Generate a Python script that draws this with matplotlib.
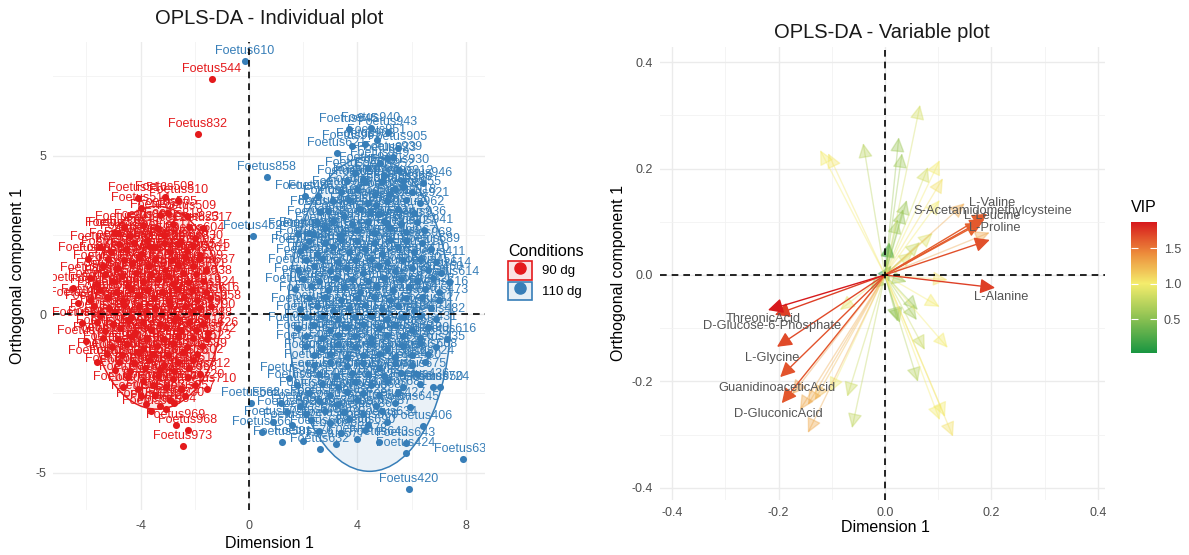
import matplotlib
matplotlib.use("Agg")
import matplotlib.pyplot as plt
from matplotlib.patches import Ellipse, Patch
from matplotlib.lines import Line2D
from matplotlib.colors import LinearSegmentedColormap, Normalize, to_rgba
from matplotlib.cm import ScalarMappable
from matplotlib.legend_handler import HandlerTuple

plt.rcParams['font.family'] = ['Liberation Sans', 'DejaVu Sans']
plt.rcParams['axes.unicode_minus'] = False

# ---------------- individual plot data ----------------
red_x = [-1.37, -1.88, -2.70, -2.25, -2.44, -1.55, -6.17, -6.50, -5.60, -4.10,
         -3.10, -2.60, -3.28, -3.00, -2.30, -1.70, -4.95, -4.85, -4.00, -5.50,
         -5.87, -6.30, -5.95, -6.00,
         -4.40, -3.75, -3.15, -2.55, -2.00,
         -5.10, -4.55, -4.00, -3.45, -2.90, -2.30, -1.80,
         -5.40, -4.85, -4.30, -3.70, -3.10, -2.60, -2.05, -1.60,
         -5.60, -5.00, -4.45, -3.90, -3.35, -2.80, -2.25, -1.70,
         -5.85, -5.25, -4.65, -4.10, -3.50, -2.95, -2.40, -1.90, -1.45,
         -5.50, -4.95, -4.35, -3.80, -3.20, -2.70, -2.10, -1.60,
         -5.30, -4.75, -4.20, -3.60, -3.05, -2.50, -1.95, -1.50,
         -5.05, -4.50, -3.90, -3.40, -2.80, -2.30, -1.75,
         -4.80, -4.25, -3.70, -3.15, -2.60, -2.05,
         -4.45, -3.90, -3.35, -2.80, -2.25, -1.80,
         -4.00, -3.45, -2.90, -2.35,
         -3.60, -3.05,
         -4.60, -3.90, -3.40, -2.80, -2.20,
         -4.80, -4.25, -3.70, -3.15, -2.60, -2.05,
         -5.20, -4.60, -4.05, -3.45, -2.85, -2.35, -1.85,
         -5.30, -4.70, -4.15, -3.60, -3.00, -2.45, -1.95,
         -5.50, -4.90, -4.35, -3.75, -3.20, -2.65, -2.10, -1.60,
         -5.70, -5.15, -4.60, -4.05, -3.45, -2.90, -2.35, -1.85, -1.40,
         -5.60, -5.00, -4.45, -3.90, -3.30, -2.75, -2.20, -1.70,
         -5.40, -4.85, -4.30, -3.75, -3.15, -2.60, -2.05, -1.55,
         -5.25, -4.70, -4.10, -3.55, -3.00, -2.45, -1.90,
         -4.95, -4.40, -3.85, -3.30, -2.75, -2.20,
         -4.65, -4.10, -3.55, -3.05, -2.50, -2.00,
         -3.80, -3.30, -2.75]
red_y = [7.41, 5.68, -3.50, -3.66, -4.16, -2.37, -0.28, 0.82, -1.50, 3.66,
         3.69, 3.60, 3.12, 3.20, 3.10, 2.70, 2.56, 2.56, 3.34, 2.10,
         1.13, 0.35, 1.75, -0.85,
         2.45, 2.35, 2.50, 2.30, 2.40,
         1.95, 2.05, 1.90, 2.10, 1.95, 2.00, 1.85,
         1.50, 1.45, 1.60, 1.50, 1.40, 1.55, 1.50, 1.40,
         0.95, 1.05, 0.90, 1.00, 1.10, 0.95, 1.00, 1.05,
         0.45, 0.55, 0.40, 0.60, 0.50, 0.40, 0.55, 0.45, 0.50,
         -0.05, 0.05, -0.10, 0.05, 0.00, -0.10, 0.05, -0.05,
         -0.55, -0.45, -0.60, -0.50, -0.40, -0.55, -0.50, -0.60,
         -1.05, -0.95, -1.10, -1.00, -0.90, -1.05, -1.00,
         -1.50, -1.55, -1.45, -1.60, -1.50, -1.45,
         -2.00, -2.10, -1.95, -2.05, -2.00, -1.90,
         -2.60, -2.55, -2.70, -2.60,
         -3.05, -3.00,
         2.75, 2.80, 2.70, 2.85, 2.75,
         2.20, 2.25, 2.15, 2.25, 2.20, 2.15,
         1.75, 1.70, 1.80, 1.75, 1.70, 1.80, 1.75,
         1.25, 1.20, 1.30, 1.25, 1.20, 1.30, 1.25,
         0.75, 0.70, 0.80, 0.75, 0.70, 0.80, 0.75, 0.70,
         0.25, 0.20, 0.30, 0.25, 0.20, 0.30, 0.25, 0.20, 0.25,
         -0.25, -0.30, -0.20, -0.25, -0.30, -0.20, -0.25, -0.30,
         -0.75, -0.80, -0.70, -0.75, -0.80, -0.70, -0.75, -0.80,
         -1.25, -1.30, -1.20, -1.25, -1.30, -1.20, -1.25,
         -1.75, -1.80, -1.70, -1.75, -1.80, -1.70,
         -2.30, -2.35, -2.25, -2.30, -2.35, -2.25,
         -2.85, -2.90, -2.80]
red_id = [544, 832, 969, 968, 973, 710, 583, 892, 612, 516,
          508, 510, 527, 505, 509, 517, 522, 591, 514, 539,
          898, 877, 863, 781,
          503, 598, 511, 524, 604,
          587, 531, 519, 573, 548, 607, 545,
          536, 593, 552, 580, 566, 541, 599, 637,
          886, 575, 562, 528, 551, 577, 609, 538,
          829, 594, 569, 547, 532, 585, 620, 616, 616,
          880, 571, 556, 534, 578, 563, 549, 790,
          851, 588, 572, 554, 543, 567, 612, 626,
          844, 579, 561, 535, 586, 570, 523,
          873, 592, 558, 546, 576, 602,
          815, 584, 565, 529, 568, 712,
          959, 863, 971, 957,
          955, 964,
          801, 806, 812, 818, 823,
          804, 809, 815, 821, 826, 830,
          835, 839, 842, 847, 853, 857, 861,
          866, 870, 874, 879, 883, 887, 891,
          895, 899, 902, 906, 911, 915, 919, 924,
          928, 931, 935, 938, 942, 947, 950, 954, 958,
          961, 965, 970, 974, 977, 981, 985, 988,
          501, 506, 512, 518, 525, 530, 537, 542,
          550, 555, 560, 564, 574, 581, 589,
          595, 597, 601, 603, 606, 611,
          701, 705, 708, 714, 717, 720,
          723, 726, 730]

blue_x = [-0.15, 0.66, 3.69, 4.50, 5.13, 4.72, 3.25, 6.42, 6.46, 0.15,
          2.07, 2.55, 2.62, 7.90, 5.90, 6.42, 5.79, 0.07, 0.48, 1.22,
          2.62, 1.48, 1.77, 6.80, 7.05, 5.94, 5.79, 7.40, 7.30,
          4.28, 5.68, 5.20, 4.69, 4.83, 5.09, 5.30, 4.46, 5.09, 1.80, 2.36, 2.07,
          3.90, 4.40, 5.00, 5.55,
          3.40, 4.00, 4.65, 5.40, 6.00,
          2.90, 3.50, 4.10, 4.80, 5.50, 6.10,
          2.20, 2.80, 3.40, 4.00, 4.60, 5.20, 5.80,
          1.90, 2.50, 3.10, 3.70, 4.30, 4.90, 5.50, 6.10, 6.70,
          1.80, 2.40, 3.00, 3.60, 4.20, 4.80, 5.40, 6.00, 6.60, 7.10,
          1.70, 2.30, 2.90, 3.50, 4.10, 4.70, 5.30, 5.90, 6.50, 7.00,
          1.90, 2.50, 3.10, 3.70, 4.30, 4.90, 5.50, 6.10, 6.70,
          1.80, 2.40, 3.00, 3.60, 4.20, 4.80, 5.40, 6.00, 6.60,
          2.10, 2.70, 3.30, 3.90, 4.50, 5.10, 5.70, 6.30, 6.90,
          2.40, 3.00, 3.60, 4.20, 4.80, 5.40, 6.00, 6.50,
          2.70, 3.30, 3.90, 4.50, 5.10, 5.70, 6.30,
          1.20, 1.90, 2.60, 3.30, 4.00, 4.70, 5.40,
          0.90, 1.60, 2.30, 3.00, 3.70, 4.40, 5.10,
          2.00, 3.20, 4.00, 4.80,
          3.80, 4.30, 5.50,
          3.60, 4.20, 4.90, 5.70,
          3.10, 3.70, 4.40, 5.10, 5.80, 6.30,
          2.50, 3.10, 3.80, 4.40, 5.00, 5.60, 6.20,
          2.20, 2.80, 3.40, 4.00, 4.60, 5.20, 5.80, 6.40,
          2.10, 2.70, 3.30, 3.90, 4.50, 5.10, 5.70, 6.30, 6.90,
          2.00, 2.60, 3.20, 3.80, 4.40, 5.00, 5.60, 6.20, 6.80,
          2.20, 2.80, 3.40, 4.00, 4.60, 5.20, 5.80, 6.40, 7.00,
          2.10, 2.70, 3.30, 3.90, 4.50, 5.10, 5.70, 6.30, 6.90,
          2.10, 2.70, 3.30, 3.90, 4.50, 5.10, 5.70, 6.30,
          2.40, 3.00, 3.60, 4.20, 4.80, 5.40, 6.00, 6.60,
          2.60, 3.20, 3.80, 4.40, 5.00, 5.60, 6.20,
          2.20, 3.00, 3.60, 4.20, 4.80, 5.50,
          1.40, 2.10, 2.80, 3.50, 4.20, 4.90,
          2.60, 3.40, 4.30]
blue_y = [7.98, 4.32, 5.84, 5.87, 5.74, 5.49, 5.08, 4.13, 2.65, 2.46,
          3.72, 3.72, 3.22, -4.57, -5.52, -3.53, -4.39, -2.80, -3.72, -4.04,
          -4.26, -2.02, -2.24, -2.30, -2.30, -2.93, -4.07, 1.00, -0.80,
          4.16, 4.00, 3.78, 3.44, 4.76, 4.92, 4.95, 3.22, 2.87, 2.52, 2.52, 2.10,
          4.45, 4.60, 4.40, 4.55,
          3.85, 3.95, 3.80, 3.95, 3.85,
          3.25, 3.10, 3.30, 3.15, 3.30, 3.20,
          2.55, 2.70, 2.50, 2.65, 2.55, 2.70, 2.60,
          2.00, 1.90, 2.10, 1.95, 2.05, 1.90, 2.10, 1.95, 2.05,
          1.40, 1.50, 1.35, 1.45, 1.30, 1.50, 1.35, 1.45, 1.40, 1.30,
          0.80, 0.90, 0.75, 0.85, 0.70, 0.90, 0.75, 0.85, 0.80, 0.70,
          0.15, 0.25, 0.10, 0.20, 0.30, 0.15, 0.25, 0.10, 0.20,
          -0.45, -0.35, -0.50, -0.40, -0.30, -0.45, -0.35, -0.50, -0.40,
          -1.00, -1.10, -0.95, -1.05, -0.90, -1.10, -1.00, -0.90, -1.05,
          -1.60, -1.50, -1.65, -1.55, -1.70, -1.55, -1.60, -1.50,
          -2.20, -2.30, -2.15, -2.25, -2.10, -2.30, -2.20,
          -2.80, -2.90, -2.75, -2.85, -2.70, -2.90, -2.80,
          -3.40, -3.50, -3.35, -3.45, -3.30, -3.50, -3.40,
          -4.00, -4.10, -3.95, -4.05,
          5.30, 5.35, 5.25,
          4.20, 4.25, 4.15, 4.20,
          3.55, 3.60, 3.50, 3.55, 3.60, 3.50,
          2.90, 2.95, 2.85, 2.90, 2.95, 2.85, 2.90,
          2.30, 2.25, 2.35, 2.30, 2.25, 2.35, 2.30, 2.25,
          1.70, 1.75, 1.65, 1.70, 1.75, 1.65, 1.70, 1.75, 1.65,
          1.10, 1.05, 1.15, 1.10, 1.05, 1.15, 1.10, 1.05, 1.15,
          0.50, 0.55, 0.45, 0.50, 0.55, 0.45, 0.50, 0.55, 0.45,
          -0.10, -0.05, -0.15, -0.10, -0.05, -0.15, -0.10, -0.05, -0.15,
          -0.70, -0.75, -0.65, -0.70, -0.75, -0.65, -0.70, -0.75,
          -1.30, -1.25, -1.35, -1.30, -1.25, -1.35, -1.30, -1.25,
          -1.90, -1.95, -1.85, -1.90, -1.95, -1.85, -1.90,
          -2.50, -2.55, -2.45, -2.50, -2.55, -2.45,
          -3.10, -3.15, -3.05, -3.10, -3.15, -3.05,
          -3.70, -3.75, -3.65]
blue_id = [610, 858, 945, 940, 943, 951, 621, 946, 941, 452,
           434, 628, 448, 638, 420, 406, 424, 562, 566, 581,
           632, 557, 559, 650, 724, 645, 643, 614, 616,
           920, 960, 953, 837, 949, 923, 939, 620, 944, 432, 471, 446,
           947, 942, 952, 930,
           925, 934, 929, 938, 955,
           843, 615, 637, 841, 728, 962,
           445, 433, 619, 842, 608, 633, 727,
           464, 438, 623, 618, 409, 625, 644, 415, 589,
           441, 455, 622, 617, 641, 636, 429, 630, 451, 614,
           457, 428, 624, 627, 413, 634, 418, 646, 422, 616,
           454, 437, 629, 626, 414, 647, 423, 648, 427,
           463, 439, 631, 635, 416, 649, 425, 651, 431,
           466, 442, 639, 640, 417, 652, 426, 653, 435,
           557, 443, 642, 644, 419, 654, 430, 724,
           447, 449, 655, 426, 421, 656, 436,
           568, 571, 573, 657, 428, 645, 427,
           572, 574, 575, 658, 659, 660, 634,
           576, 577, 578, 643,
           901, 903, 905,
           907, 908, 910, 912,
           913, 914, 916, 917, 918, 921,
           922, 924, 926, 927, 932, 933, 936,
           937, 948, 956, 957, 963, 966, 967, 968,
           401, 402, 403, 404, 405, 407, 408, 410, 411,
           412, 440, 444, 450, 453, 456, 458, 459, 460,
           461, 462, 465, 467, 468, 469, 470, 472, 473,
           474, 475, 476, 477, 478, 479, 480, 481, 482,
           483, 484, 485, 486, 487, 488, 489, 490,
           661, 662, 663, 664, 665, 666, 667, 668,
           669, 670, 671, 672, 673, 674, 675,
           676, 677, 678, 679, 680, 681,
           682, 683, 684, 685, 686, 687,
           688, 689, 690]

# 95% ellipses (centre x, centre y, semi-axis x, semi-axis y)
ell_red = [-3.40, 0.20, 2.40, 3.20]
ell_blue = [4.45, 0.00, 3.00, 4.96]

group_names = ['90 dg', '110 dg']
group_colors = ['#E41A1C', '#377EB8']

# ---------------- variable plot data ----------------
var_x = [-0.220, -0.207, -0.203, -0.197, -0.194, 0.207, 0.197, 0.187, 0.192, 0.180,
         -0.122, -0.107, -0.041, 0.026, 0.032, 0.066, 0.041, 0.034, 0.024, 0.008,
         0.103, 0.081, 0.109, 0.103, 0.150, 0.197, 0.090, 0.066, 0.053, 0.009,
         0.118, 0.041, 0.103, 0.062, 0.060, 0.028, 0.118, 0.075, 0.062, 0.113,
         0.103, 0.128, -0.175, -0.160, -0.145, -0.132, -0.145, -0.103, -0.071, -0.062,
         -0.085, 0.024, -0.028, 0.012]
var_y = [-0.066, -0.075, -0.135, -0.192, -0.241, -0.024, 0.066, 0.105, 0.115, 0.098,
         0.235, 0.229, 0.248, 0.259, 0.229, 0.320, 0.141, 0.124, 0.105, 0.062,
         0.216, 0.203, 0.182, 0.141, 0.135, 0.080, 0.079, 0.062, 0.043, 0.060,
         -0.009, -0.013, -0.060, -0.066, -0.085, -0.090, -0.137, -0.141, -0.201, -0.267,
         -0.273, -0.304, -0.225, -0.254, -0.244, -0.235, -0.297, -0.220, -0.229, -0.288,
         -0.066, -0.088, -0.028, 0.018]
var_vip = [1.87, 1.72, 1.68, 1.64, 1.63, 1.72, 1.66, 1.62, 1.60, 1.58,
           1.00, 1.02, 0.72, 0.58, 0.60, 0.85, 0.58, 0.55, 0.60, 0.25,
           1.00, 0.85, 1.05, 1.00, 1.30, 1.32, 0.90, 0.80, 0.88, 0.20,
           1.05, 0.60, 1.00, 0.60, 0.62, 0.55, 1.00, 0.80, 0.70, 1.00,
           1.00, 1.05, 1.35, 1.30, 1.28, 1.22, 1.30, 0.98, 0.80, 0.75,
           0.92, 0.55, 0.50, 0.02]
var_names = ['ThreonicAcid', 'D-Glucose-6-Phosphate', 'L-Glycine', 'GuanidinoaceticAcid',
             'D-GluconicAcid', 'L-Alanine', 'L-Proline', 'L-Leucine', 'L-Valine',
             'S-Acetamidomethylcysteine']
name_x = [-0.229, -0.212, -0.212, -0.203, -0.201, 0.218, 0.207, 0.201, 0.201, 0.203]
name_y = [-0.083, -0.096, -0.156, -0.212, -0.261, -0.041, 0.088, 0.111, 0.135, 0.120]

# ---------------- figure ----------------
W, H = 1189, 555
fig = plt.figure(figsize=(W / 100, H / 100), dpi=100)


def box(l, t, r, b):
    return [l / W, 1 - b / H, (r - l) / W, (b - t) / H]


def minimal(ax, xmaj, xmin, ymaj, ymin):
    for s in ax.spines.values():
        s.set_visible(False)
    ax.set_xticks(xmaj)
    ax.set_xticks(xmin, minor=True)
    ax.set_yticks(ymaj)
    ax.set_yticks(ymin, minor=True)
    ax.grid(which='major', color='#ebebeb', lw=1.0)
    ax.grid(which='minor', color='#f2f2f2', lw=0.6)
    ax.set_axisbelow(True)
    ax.tick_params(which='both', length=0, labelsize=9, labelcolor='#4d4d4d')


# left panel
ax1 = fig.add_axes(box(53, 42, 485, 510))
ax1.set_xlim(-7.23, 8.71)
ax1.set_ylim(-6.18, 8.58)
minimal(ax1, [-4, 0, 4, 8], [-6, -2, 2, 6], [-5, 0, 5], [-2.5, 2.5, 7.5])
ax1.tick_params(axis='x', pad=7)
ax1.tick_params(axis='y', pad=5)

for e, c in zip([ell_red, ell_blue], group_colors):
    ax1.add_patch(Ellipse((e[0], e[1]), 2 * e[2], 2 * e[3], facecolor=to_rgba(c, 0.1),
                          edgecolor=c, lw=1.1, zorder=1))

for xs, ys, ids, c in [(red_x, red_y, red_id, group_colors[0]),
                       (blue_x, blue_y, blue_id, group_colors[1])]:
    ax1.scatter(xs, ys, s=26, color=c, zorder=2, linewidths=0)
    for x, y, i in zip(xs, ys, ids):
        ax1.annotate(f'Foetus{i}', (x, y), xytext=(0, 7.3), textcoords='offset points',
                     ha='center', va='center', fontsize=9, color=c, zorder=3,
                     clip_on=True)

ax1.axhline(0, color='black', lw=1.2, dashes=(4, 3), zorder=4)
ax1.axvline(0, color='black', lw=1.2, dashes=(4, 3), zorder=4)

fig.text(269 / W, 1 - 18 / H, 'OPLS-DA - Individual plot', ha='center', va='center',
         fontsize=14.5, color='#1a1a1a')
fig.text(269 / W, 1 - 543 / H, 'Dimension 1', ha='center', va='center', fontsize=11.5)
fig.text(18 / W, 1 - 276 / H, 'Orthogonal component 1', ha='center', va='center',
         rotation=90, fontsize=11.5)

# legend
handles = [(Patch(facecolor=to_rgba(c, 0.12), edgecolor=c, lw=1.2),
            Line2D([], [], marker='o', ls='', color=c, markersize=8))
           for c in group_colors]
fig.legend(handles, group_names, handler_map={tuple: HandlerTuple(ndivide=1)},
           loc='upper left', bbox_to_anchor=(496 / W, 1 - 232 / H), frameon=False,
           title='Conditions', title_fontsize=11.5, fontsize=9.5, handlelength=1.8,
           handleheight=1.8, labelspacing=0.15, handletextpad=0.8, alignment='left')

# right panel
ax2 = fig.add_axes(box(660, 47, 1105, 500))
ax2.set_xlim(-0.4229, 0.4136)
ax2.set_ylim(-0.423, 0.4286)
minimal(ax2, [-0.4, -0.2, 0.0, 0.2, 0.4], [-0.3, -0.1, 0.1, 0.3],
        [-0.4, -0.2, 0.0, 0.2, 0.4], [-0.3, -0.1, 0.1, 0.3])
ax2.xaxis.set_major_formatter(plt.FormatStrFormatter('%.1f'))
ax2.yaxis.set_major_formatter(plt.FormatStrFormatter('%.1f'))
ax2.tick_params(axis='x', pad=5)
ax2.tick_params(axis='y', pad=5)

vmin, vmax = min(var_vip), max(var_vip)
mid = (1.0 - vmin) / (vmax - vmin)
cmap = LinearSegmentedColormap.from_list(
    'vip', [(0.0, '#1a9641'), (mid * 0.5, '#8cc152'), (mid, '#f4ec6c'),
            (mid + (1 - mid) * 0.5, '#ec8a3a'), (1.0, '#d7191c')])
norm = Normalize(vmin, vmax)

order = sorted(range(len(var_vip)), key=lambda k: var_vip[k])
for k in order:
    col = cmap(norm(var_vip[k]))
    a = 1.0 if var_vip[k] >= 1.5 else 0.38
    ax2.annotate('', xy=(var_x[k], var_y[k]), xytext=(0, 0),
                 arrowprops=dict(arrowstyle='-|>,head_length=0.5,head_width=0.25',
                                 mutation_scale=18, lw=1.0, color=col, alpha=a,
                                 shrinkA=0, shrinkB=0), zorder=2)

for n, x, y in zip(var_names, name_x, name_y):
    ax2.text(x, y, n, ha='center', va='center', fontsize=9.3, color='#555555', zorder=3)

ax2.axhline(0, color='black', lw=1.2, dashes=(4, 3), zorder=4)
ax2.axvline(0, color='black', lw=1.2, dashes=(4, 3), zorder=4)

fig.text(882 / W, 1 - 33 / H, 'OPLS-DA - Variable plot', ha='center', va='center',
         fontsize=14.5, color='#1a1a1a')
fig.text(885 / W, 1 - 527 / H, 'Dimension 1', ha='center', va='center', fontsize=11.5)
fig.text(618 / W, 1 - 273 / H, 'Orthogonal component 1', ha='center', va='center',
         rotation=90, fontsize=11.5)

# colour bar
cax = fig.add_axes(box(1131, 222, 1157, 353))
cb = fig.colorbar(ScalarMappable(norm=norm, cmap=cmap), cax=cax)
cb.outline.set_visible(False)
cb.set_ticks([0.5, 1.0, 1.5])
cax.tick_params(which='major', direction='in', length=5, width=0.8, color='white',
                left=True, right=True, labelsize=9, labelcolor='#4d4d4d', pad=5)
cax.tick_params(which='minor', length=0)
fig.text(1131 / W, 1 - 207 / H, 'VIP', ha='left', va='center', fontsize=11.5)

fig.savefig('out.png', dpi=100)
